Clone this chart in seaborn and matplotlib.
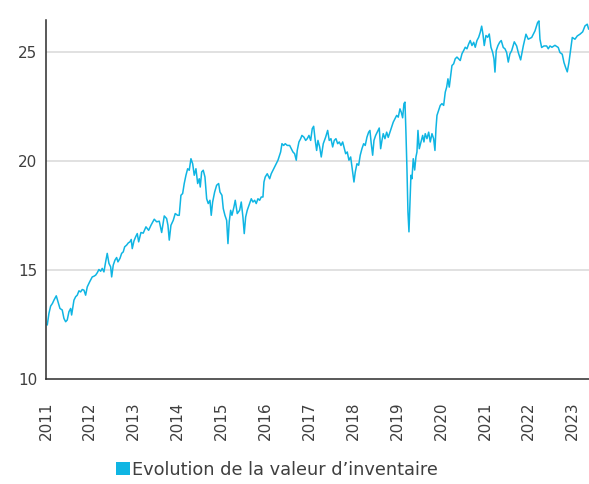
import matplotlib
matplotlib.use("Agg")
import matplotlib.pyplot as plt
import matplotlib.transforms as mtransforms
from matplotlib.patches import Patch
import numpy as np
import pandas as pd
import seaborn as sns

# Valeur d'inventaire (NAV) – time in years elapsed since start of 2011
start_year = 2011
years_elapsed = [
    0.030, 0.068, 0.107, 0.148, 0.182, 0.235, 0.273, 0.319, 0.371, 0.410,
    0.449, 0.485, 0.524, 0.563, 0.585, 0.638, 0.677, 0.713, 0.752, 0.790,
    0.827, 0.866, 0.904, 0.941, 0.995, 1.055, 1.093, 1.132, 1.169, 1.207,
    1.246, 1.282, 1.321, 1.360, 1.396, 1.435, 1.474, 1.497, 1.533, 1.572,
    1.610, 1.640, 1.686, 1.724, 1.761, 1.793, 1.838, 1.875, 1.913, 1.943,
    1.966, 2.005, 2.043, 2.080, 2.112, 2.164, 2.216, 2.278, 2.339, 2.392,
    2.467, 2.522, 2.581, 2.636, 2.695, 2.749, 2.779, 2.809, 2.847, 2.900,
    2.945, 3.000, 3.036, 3.075, 3.114, 3.150, 3.189, 3.228, 3.264, 3.303,
    3.342, 3.378, 3.417, 3.456, 3.492, 3.515, 3.547, 3.583, 3.622, 3.661,
    3.697, 3.736, 3.765, 3.797, 3.843, 3.888, 3.934, 3.964, 4.009, 4.039,
    4.077, 4.116, 4.146, 4.175, 4.207, 4.237, 4.282, 4.312, 4.358, 4.412,
    4.449, 4.487, 4.517, 4.549, 4.585, 4.640, 4.677, 4.715, 4.754, 4.790,
    4.829, 4.868, 4.904, 4.943, 4.966, 4.995, 5.041, 5.096, 5.132, 5.171,
    5.210, 5.246, 5.285, 5.323, 5.346, 5.376, 5.415, 5.451, 5.497, 5.551,
    5.588, 5.626, 5.665, 5.702, 5.724, 5.763, 5.802, 5.831, 5.877, 5.916,
    5.952, 5.991, 6.030, 6.066, 6.098, 6.134, 6.166, 6.196, 6.235, 6.271,
    6.317, 6.371, 6.417, 6.453, 6.492, 6.531, 6.567, 6.606, 6.645, 6.681,
    6.720, 6.759, 6.788, 6.827, 6.863, 6.902, 6.941, 6.977, 7.016, 7.046,
    7.084, 7.123, 7.159, 7.198, 7.237, 7.273, 7.312, 7.351, 7.380, 7.410,
    7.442, 7.472, 7.510, 7.547, 7.592, 7.624, 7.654, 7.683, 7.722, 7.761,
    7.797, 7.836, 7.875, 7.911, 7.950, 7.989, 8.025, 8.064, 8.093, 8.125,
    8.155, 8.178, 8.200, 8.223, 8.246, 8.269, 8.292, 8.314, 8.337, 8.367,
    8.399, 8.428, 8.451, 8.474, 8.504, 8.542, 8.581, 8.610, 8.640, 8.679,
    8.718, 8.754, 8.793, 8.831, 8.861, 8.884, 8.907, 8.945, 8.982, 9.020,
    9.059, 9.096, 9.128, 9.157, 9.187, 9.219, 9.248, 9.287, 9.323, 9.362,
    9.401, 9.437, 9.476, 9.515, 9.551, 9.590, 9.629, 9.665, 9.704, 9.743,
    9.779, 9.818, 9.857, 9.893, 9.925, 9.954, 9.984, 10.023, 10.062, 10.098,
    10.137, 10.175, 10.205, 10.228, 10.257, 10.296, 10.335, 10.371, 10.417, 10.456,
    10.494, 10.531, 10.569, 10.608, 10.668, 10.722, 10.759, 10.813, 10.873, 10.934,
    10.986, 11.064, 11.139, 11.200, 11.230, 11.253, 11.291, 11.344, 11.405, 11.442,
    11.481, 11.526, 11.594, 11.670, 11.708, 11.761, 11.800, 11.838, 11.875, 11.913,
    11.952, 11.989, 12.050, 12.103, 12.164, 12.226, 12.278, 12.330, 12.362,
]
nav_values = [
    12.48, 13.01, 13.35, 13.47, 13.62, 13.82, 13.55, 13.24, 13.17, 12.78,
    12.63, 12.71, 13.09, 13.24, 12.94, 13.62, 13.78, 13.85, 14.05, 14.00,
    14.11, 14.08, 13.85, 14.23, 14.46, 14.69, 14.72, 14.77, 14.88, 15.03,
    14.95, 15.08, 14.92, 15.38, 15.77, 15.31, 15.15, 14.69, 15.23, 15.46,
    15.58, 15.38, 15.54, 15.77, 15.84, 16.07, 16.15, 16.25, 16.30, 16.41,
    15.99, 16.34, 16.53, 16.68, 16.30, 16.73, 16.70, 16.99, 16.83, 17.06,
    17.34, 17.22, 17.25, 16.73, 17.49, 17.37, 17.06, 16.38, 17.06, 17.29,
    17.60, 17.52, 17.52, 18.44, 18.52, 18.98, 19.36, 19.66, 19.59, 20.12,
    19.89, 19.36, 19.66, 18.98, 19.20, 18.82, 19.51, 19.59, 19.28, 18.28,
    18.06, 18.21, 17.52, 18.13, 18.59, 18.90, 18.98, 18.59, 18.44, 17.83,
    17.52, 17.29, 16.22, 17.22, 17.75, 17.52, 17.90, 18.21, 17.60, 17.75,
    18.13, 17.44, 16.68, 17.44, 17.75, 18.06, 18.28, 18.13, 18.21, 18.06,
    18.28, 18.21, 18.36, 18.36, 19.05, 19.28, 19.43, 19.20, 19.43, 19.59,
    19.74, 19.89, 20.05, 20.28, 20.43, 20.81, 20.73, 20.81, 20.73, 20.73,
    20.58, 20.43, 20.35, 20.05, 20.50, 20.89, 21.04, 21.19, 21.11, 20.96,
    21.04, 21.19, 20.96, 21.50, 21.61, 20.96, 20.50, 20.96, 20.66, 20.20,
    20.81, 21.11, 21.42, 20.96, 21.04, 20.66, 20.96, 21.04, 20.81, 20.89,
    20.73, 20.89, 20.66, 20.35, 20.43, 20.05, 20.20, 19.66, 19.05, 19.51,
    19.89, 19.82, 20.28, 20.58, 20.81, 20.73, 21.11, 21.34, 21.42, 20.81,
    20.28, 20.96, 21.19, 21.34, 21.53, 20.58, 20.96, 21.27, 21.04, 21.34,
    21.10, 21.34, 21.57, 21.80, 21.95, 22.11, 22.03, 22.41, 22.26, 22.00,
    22.65, 22.72, 21.34, 19.66, 17.67, 16.76, 18.13, 19.36, 19.20, 20.12,
    19.60, 20.20, 20.43, 21.42, 20.58, 20.89, 21.19, 20.89, 21.27, 21.04,
    21.34, 20.89, 21.27, 21.04, 20.50, 21.50, 22.11, 22.34, 22.57, 22.65,
    22.57, 23.18, 23.41, 23.79, 23.41, 23.94, 24.40, 24.48, 24.71, 24.79,
    24.71, 24.63, 24.94, 25.09, 25.24, 25.17, 25.39, 25.55, 25.32, 25.47,
    25.24, 25.55, 25.70, 25.93, 26.21, 25.85, 25.32, 25.78, 25.70, 25.85,
    25.24, 25.01, 24.71, 24.10, 25.09, 25.32, 25.47, 25.55, 25.23, 25.17,
    25.00, 24.56, 24.94, 25.08, 25.49, 25.30, 25.00, 24.66, 25.30, 25.84,
    25.61, 25.69, 25.99, 26.38, 26.45, 25.61, 25.23, 25.30, 25.30, 25.17,
    25.30, 25.24, 25.33, 25.23, 25.00, 24.92, 24.54, 24.31, 24.11, 24.54,
    25.15, 25.69, 25.61, 25.76, 25.84, 25.95, 26.22, 26.30, 26.07,
]
year_ticks = list(range(2011, 2024))
value_ticks = [10, 15, 20, 25]
series_label = "Evolution de la valeur d\u2019inventaire"

LINE_COLOR = "#0FB5E3"
TEXT_COLOR = "#3f3f3f"

sns.set_style("white")
plt.rcParams.update({
    "font.family": ["DejaVu Sans"],
    "xtick.major.size": 0,
    "ytick.major.size": 0,
    "ytick.major.pad": 6,
    "ytick.labelsize": 11,
    "ytick.labelcolor": TEXT_COLOR,
})

df = pd.DataFrame({
    "annee": start_year + np.asarray(years_elapsed),
    "valeur": nav_values,
})

fig = plt.figure(figsize=(5.89, 4.84), dpi=100)
ax = fig.add_axes([0.078, 0.217, 0.922, 0.742])

sns.lineplot(data=df, x="annee", y="valeur", color=LINE_COLOR,
             linewidth=1.1, ax=ax, legend=False)

ax.set_xlim(2011.0, 2023.37)
ax.set_ylim(10, 26.5)
ax.set_yticks(value_ticks, labels=[str(v) for v in value_ticks])
ax.set_xticks(year_ticks, labels=[])
ax.set_xlabel("")
ax.set_ylabel("")

# vertical year labels hanging below the x axis
year_trans = mtransforms.offset_copy(ax.get_xaxis_transform(), fig=fig,
                                     y=-16, units="points")
for y in year_ticks:
    ax.text(y, 0, str(y), transform=year_trans, rotation=90,
            ha="center", va="top", fontsize=11, color=TEXT_COLOR,
            clip_on=False)

for v in value_ticks[1:]:
    ax.axhline(v, color="#d9d9d9", linewidth=1.1, zorder=0)

for side in ("top", "right"):
    ax.spines[side].set_visible(False)
for side in ("left", "bottom"):
    ax.spines[side].set_color("#2b2b2b")
    ax.spines[side].set_linewidth(1.1)

handle = Patch(facecolor=LINE_COLOR, edgecolor="none")
fig.legend([handle], [series_label], loc="center",
           bbox_to_anchor=(277 / 589, 1 - 470 / 484), frameon=False,
           fontsize=12.8, handlelength=0.75, handleheight=0.75,
           handletextpad=0.12, labelcolor=TEXT_COLOR)

fig.savefig("out.png", dpi=100)
